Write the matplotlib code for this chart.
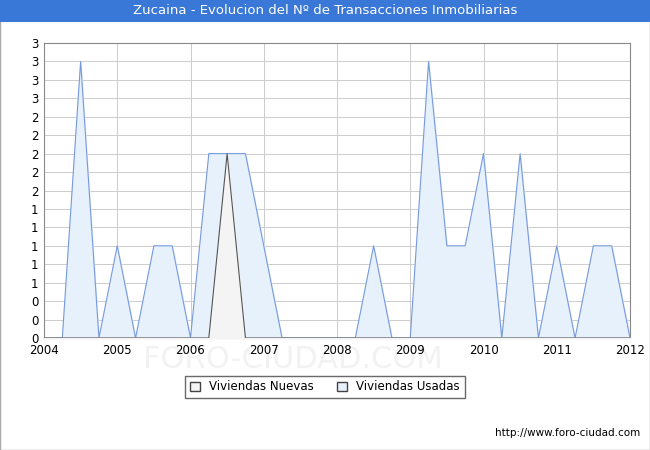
import matplotlib
matplotlib.use("Agg")
import matplotlib.pyplot as plt
from matplotlib.patches import Patch, Rectangle

quarters = [2004.0 + 0.25*i for i in range(33)]
usadas = [0,0,3,0,1,0,1,1,0,2,2,2,1,0,0,0,0,0,1,0,0,3,1,1,2,0,2,0,1,0,1,1,0]
nuevas = [0,0,0,0,0,0,0,0,0,0,2,0,0,0,0,0,0,0,0,0,0,0,0,0,0,0,0,0,0,0,0,0,0]
years = list(range(2004, 2013))
yticks = [round(0.2*i, 1) for i in range(17)]

fig = plt.figure(figsize=(6.5, 4.5), dpi=100)
fig.patch.set_facecolor("#ffffff")
fig.patches.append(Rectangle((0, 0), 1, 1, transform=fig.transFigure,
                             fc="none", ec="#aaaaaa", lw=1, zorder=-2))
fig.patches.append(Rectangle((0, 1-22/450), 1, 22/450, transform=fig.transFigure,
                             fc="#3a78d8", ec="none", zorder=-1))
ax = fig.add_axes([44/650, 1-338/450, 586/650, 295/450])
ax.set_facecolor("white")
ax.fill_between(quarters, usadas, color="#e6f1fc", zorder=2)
ax.plot(quarters, usadas, color="#7799dd", lw=0.8, zorder=3)
ax.fill_between(quarters, nuevas, color="#f4f4f4", zorder=4)
ax.plot(quarters, nuevas, color="#555555", lw=0.8, zorder=5)
ax.set_xlim(2004, 2012)
ax.set_ylim(0, 3.2)
ax.set_xticks(years)
ax.set_xticklabels([str(y) for y in years], fontsize=8.5)
ax.set_yticks(yticks)
ax.set_yticklabels([str(int(round(v))) for v in yticks], fontsize=8.5)
ax.grid(True, color="#cccccc", lw=0.7, zorder=0)
ax.set_axisbelow(True)
for s in ax.spines.values():
    s.set_color("#888888")
ax.tick_params(length=0, pad=4)

fig.text(0.5, 1-11/450, "Zucaina - Evolucion del Nº de Transacciones Inmobiliarias",
         ha="center", va="center", color="white", fontsize=9.5)
fig.text(0.45, 1-360/450, "FORO-CIUDAD.COM", ha="center", va="center",
         fontsize=22, color="#f2f2f2", zorder=-1)
fig.legend(handles=[Patch(fc="#f4f4f4", ec="#444444", label="Viviendas Nuevas"),
                    Patch(fc="#e6f1fc", ec="#444444", label="Viviendas Usadas")],
           loc="center", bbox_to_anchor=(0.5, 1-387/450), ncol=2, fontsize=8.5,
           fancybox=False, edgecolor="#444444", handlelength=0.8, handleheight=0.8)
fig.text(640/650, 1-433/450, "http://www.foro-ciudad.com", ha="right", va="center", fontsize=7.5)
fig.savefig("out.png", dpi=100)
